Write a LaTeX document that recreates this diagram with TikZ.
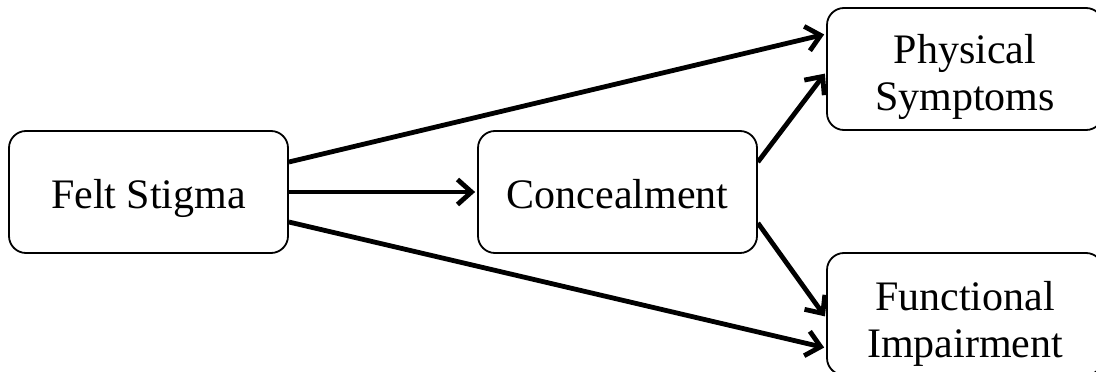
\documentclass[tikz,border=0pt]{standalone}
\usepackage{fontspec}
\setmainfont{Liberation Serif}
\usetikzlibrary{arrows.meta,calc}
\newcommand{\onel}[1]{\raisebox{-16pt}[0pt][0pt]{#1}}
\newcommand{\twol}[3]{\raisebox{#1}[0pt][0pt]{\begin{tabular}[t]{@{}c@{}}#2\\#3\end{tabular}}}
\begin{document}
\begin{tikzpicture}[x=1pt,y=-1pt,
  box/.style={draw=black,line width=1.8pt,rounded corners=17pt,inner sep=0pt,
    font=\fontsize{42}{47}\selectfont,minimum height=122pt},
  arr/.style={line width=4.8pt,-{Straight Barb[length=14pt,width=25pt,line width=4.8pt]},shorten >=2pt}]
\useasboundingbox (0,0) rectangle (1096,372);
\node[box,minimum width=279pt] (fs) at (148.5,192) {\onel{Felt Stigma}};
\node[box,minimum width=279pt] (co) at (617.5,192) {\onel{Concealment}};
\node[box,minimum width=276pt] (ps) at (965,69) {\twol{6pt}{Physical}{Symptoms}};
\node[box,minimum width=276pt] (fi) at (965,314) {\twol{4pt}{Functional}{Impairment}};
\draw[arr] ($(fs.east)+(0,-30)$) -- ($(ps.west)+(0,-35)$);
\draw[arr] (fs.east) -- (co.west);
\draw[arr] ($(fs.east)+(0,30)$) -- ($(fi.west)+(0,34)$);
\draw[arr] ($(co.east)+(0,-30)$) -- ($(ps.west)+(0,3)$);
\draw[arr] ($(co.east)+(0,31)$) -- ($(fi.west)+(0,4)$);
\end{tikzpicture}
\end{document}
